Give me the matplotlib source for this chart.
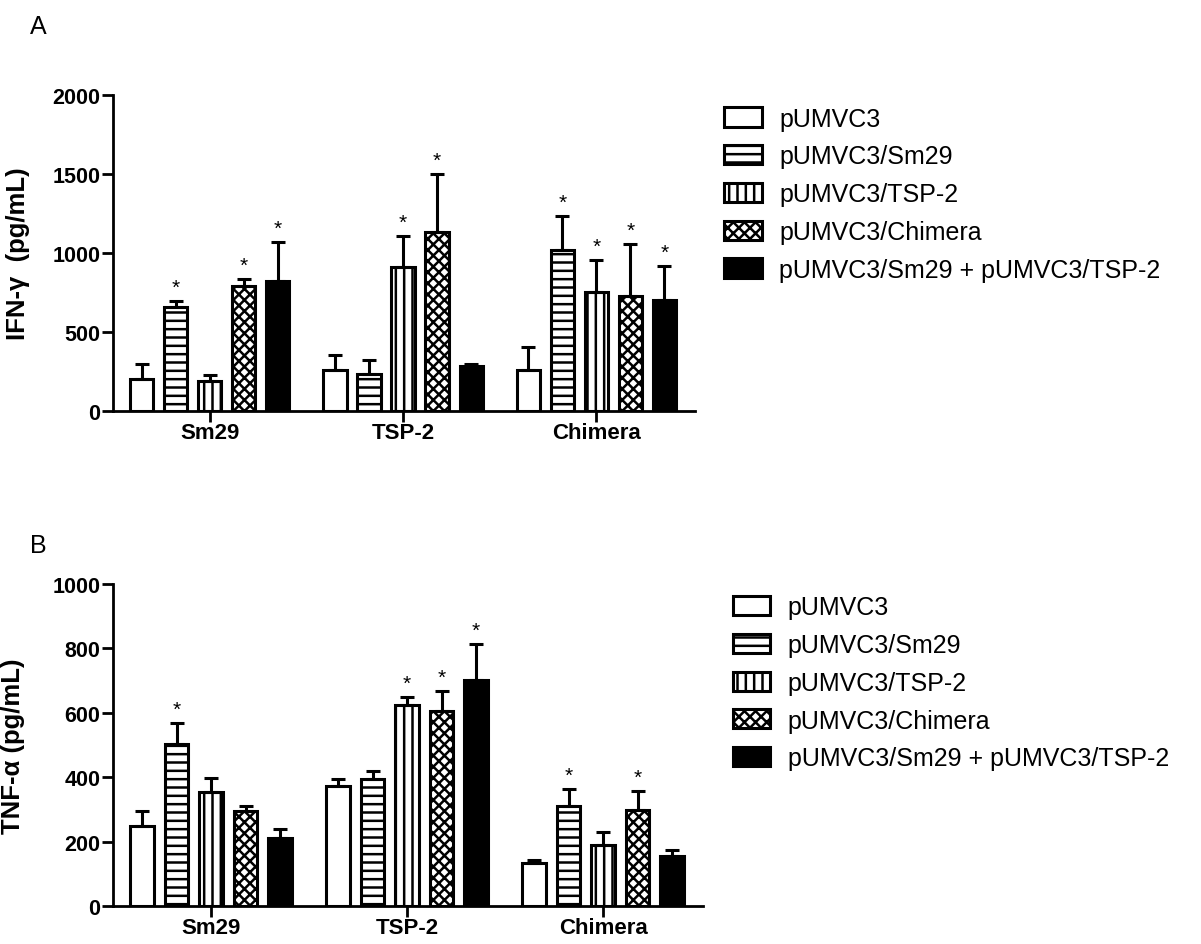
import matplotlib
matplotlib.use("Agg")
import matplotlib.pyplot as plt
import numpy as np

plt.rcParams['font.family'] = ['Liberation Sans', 'DejaVu Sans']
plt.rcParams['hatch.linewidth'] = 1.8
plt.rcParams['hatch.color'] = 'black'

groups = ['Sm29', 'TSP-2', 'Chimera']
vaccines = ['pUMVC3', 'pUMVC3/Sm29', 'pUMVC3/TSP-2', 'pUMVC3/Chimera',
            'pUMVC3/Sm29 + pUMVC3/TSP-2']

# IFN-gamma (pg/mL), rows = vaccine, cols = antigen group
ifn_mean = [[200, 257, 261],
            [661, 232, 1019],
            [187, 914, 752],
            [789, 1135, 731],
            [821, 282, 705]]
ifn_err = [[95, 95, 143],
           [38, 92, 217],
           [38, 191, 204],
           [47, 368, 326],
           [246, 15, 211]]
ifn_star = [[0, 0, 0],
            [1, 0, 1],
            [0, 1, 1],
            [1, 1, 1],
            [1, 0, 1]]

# TNF-alpha (pg/mL)
tnf_mean = [[247, 374, 134],
            [503, 394, 311],
            [353, 624, 188],
            [296, 605, 297],
            [211, 703, 155]]
tnf_err = [[47, 21, 8],
           [64, 24, 53],
           [44, 24, 42],
           [16, 63, 59],
           [29, 111, 18]]
tnf_star = [[0, 0, 0],
            [1, 0, 1],
            [0, 1, 0],
            [0, 1, 1],
            [0, 1, 0]]

fills = ['white', 'white', 'white', 'white', 'black']
hatches = [None, '--', '||', 'xxx', None]

fig = plt.figure(figsize=(12.01, 9.45), dpi=100)
axA = fig.add_axes([0.0941, 0.564, 0.4846, 0.3344])
axB = fig.add_axes([0.0941, 0.0402, 0.4913, 0.3407])


def draw_panel(ax, means, errs, stars, ymax, ystep, ylabel, labx):
    x = np.arange(len(groups))
    step = 0.176
    width = 0.12
    handles = []
    for i in range(len(vaccines)):
        pos = x + (i - 2) * step
        b = ax.bar(pos, means[i], width, color=fills[i], edgecolor='black',
                   linewidth=2.2, hatch=hatches[i], label=vaccines[i], zorder=2)
        handles.append(b)
        ax.errorbar(pos, means[i], yerr=[np.zeros(len(groups)), errs[i]],
                    fmt='none', ecolor='black', elinewidth=2.2, capsize=5,
                    capthick=2.2, zorder=3)
        for j in range(len(groups)):
            if stars[i][j]:
                ax.annotate('*', (pos[j], means[i][j] + errs[i][j]),
                            xytext=(0, 3), textcoords='offset points',
                            ha='center', va='bottom', fontsize=15)
    ax.set_xlim(-0.5, 2.51)
    ax.set_ylim(0, ymax)
    ax.set_yticks(np.arange(0, ymax + 1, ystep))
    ax.set_xticks(x)
    ax.set_xticklabels(groups, fontweight='bold', fontsize=16)
    for lab in ax.get_yticklabels():
        lab.set_fontweight('bold')
        lab.set_fontsize(15.5)
    ax.spines['top'].set_visible(False)
    ax.spines['right'].set_visible(False)
    ax.spines['left'].set_linewidth(2)
    ax.spines['bottom'].set_linewidth(2)
    ax.tick_params(axis='both', direction='out', length=8, width=2)
    ax.tick_params(axis='y', pad=1)
    ax.tick_params(axis='x', pad=0)
    ax.set_ylabel(ylabel, fontweight='bold', fontsize=18.5)
    ax.yaxis.set_label_coords(labx, 0.5)
    return handles


hA = draw_panel(axA, ifn_mean, ifn_err, ifn_star, 2000, 500,
                'IFN-γ  (pg/mL)', -0.143)
hB = draw_panel(axB, tnf_mean, tnf_err, tnf_star, 1000, 200,
                'TNF-α (pg/mL)', -0.149)

leg_kw = dict(loc='upper left', frameon=False, fontsize=18, borderpad=0,
              borderaxespad=0, handlelength=1.5, handleheight=0.8,
              handletextpad=0.7, labelspacing=0.55)
fig.legend(hA, vaccines, bbox_to_anchor=(0.603, 0.886), **leg_kw)
fig.legend(hB, vaccines, bbox_to_anchor=(0.610, 0.369), **leg_kw)

fig.text(38 / 1201, 1 - 27 / 945, 'A', fontsize=18, ha='center', va='center')
fig.text(38 / 1201, 1 - 546 / 945, 'B', fontsize=18, ha='center', va='center')

fig.savefig('out.png', dpi=100)
